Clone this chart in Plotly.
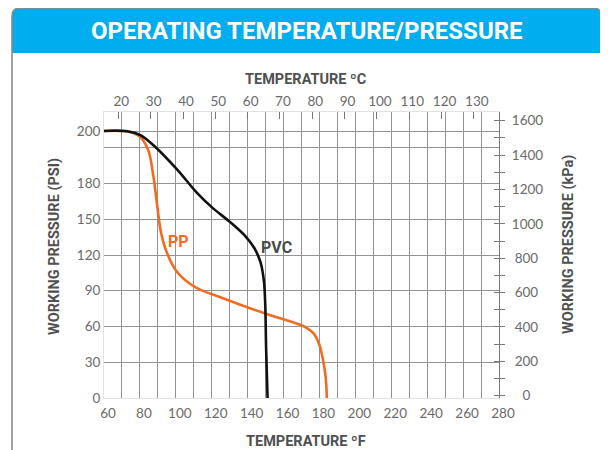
import plotly.graph_objects as go

# ---------------- data ----------------
temp_f_ticks = list(range(60, 281, 20))          # bottom axis labels (°F)
temp_f_grid = list(range(70, 271, 10))           # vertical grid lines (°F)
temp_c_ticks = list(range(20, 131, 10))          # top axis labels (°C)
psi_tick_labels = ["0", "30", "60", "90", "120", "150", "180", "200"]
psi_tick_pos = [0, 200, 400, 600, 800, 1000, 1200, 1490]   # positions on the chart's grid scale
grid_rows = [200, 400, 600, 800, 1000, 1200, 1400, 1490]
kpa_ticks = list(range(0, 1601, 200))

pvc_temp_f = [60, 73.6, 80.3, 88.6, 100.9, 111.4, 120.3, 130.3, 138.7, 143.7, 147.1, 149.0,
              149.8, 150.3, 151.1]
pvc_pressure = [1494, 1491, 1471, 1404, 1276, 1152, 1065, 984, 906, 839, 761, 660,
                526, 274, 0]

pp_temp_f = [60, 72.4, 80.2, 84.6, 87.4, 89.6, 91.8, 95.1, 100.7, 110.7, 127.4, 149.7,
             168.1, 172.6, 176.5, 179.8, 182.0, 183.5, 184.1]
pp_pressure = [1494, 1494, 1460, 1387, 1248, 1080, 923, 811, 705, 621, 554, 473,
               414, 394, 364, 302, 213, 112, 0]

# ---------------- layout helpers ----------------
# page body has an 8px margin, so the figure starts at (8, 8) of the window
OFF = 8
WIN_W, WIN_H = 608, 450
W, H = WIN_W - OFF, WIN_H - OFF
L, R, T, B = 104, 499, 112, 398     # plot area in window pixels


def px(x):
    return (x - L) / (R - L)


def py(y):
    return (B - y) / (B - T)


ORANGE = "#F26B22"
GRID = "#939393"
TICK_FONT = dict(family="Lato", size=13.5, color="#6a6a6a")
TITLE_FONT = dict(family="Roboto", size=14.5, color="#505050")

fig = go.Figure()

fig.add_trace(go.Scatter(x=pp_temp_f, y=pp_pressure, mode="lines",
                         line=dict(color=ORANGE, width=2.6, shape="spline", smoothing=1.0),
                         hoverinfo="skip", showlegend=False))
fig.add_trace(go.Scatter(x=pvc_temp_f, y=pvc_pressure, mode="lines",
                         line=dict(color="#111111", width=2.6, shape="spline", smoothing=1.0),
                         hoverinfo="skip", showlegend=False))
# helper traces so the extra axes are drawn
fig.add_trace(go.Scatter(x=[None], y=[None], xaxis="x2", yaxis="y", mode="lines",
                         hoverinfo="skip", showlegend=False))
fig.add_trace(go.Scatter(x=[None], y=[None], xaxis="x", yaxis="y2", mode="lines",
                         hoverinfo="skip", showlegend=False))
fig.add_trace(go.Scatter(x=[None], y=[None], xaxis="x", yaxis="y3", mode="lines",
                         hoverinfo="skip", showlegend=False))

kpa_range = [-13.4, 1650.6]
pad = {4: "", 3: "\u2008", 1: "\u2007\u2008"}
kpa_text = [pad[len(str(v))] + str(v) for v in kpa_ticks]

fig.update_layout(
    width=W, height=H,
    margin=dict(l=L - OFF, r=WIN_W - R, t=T - OFF, b=WIN_H - B, pad=0),
    paper_bgcolor="white", plot_bgcolor="white",
    showlegend=False,
    xaxis=dict(range=[60, 280], tickmode="array", tickvals=temp_f_ticks,
               showgrid=False, zeroline=False, ticks="",
               showline=True, linecolor="#e2e2e2", linewidth=1, mirror=True,
               tickfont=TICK_FONT, ticklabelshift=4, ticklabelstandoff=3,
               minor=dict(tickmode="array", tickvals=temp_f_grid, showgrid=True,
                          gridcolor=GRID, gridwidth=1.3, ticks="")),
    xaxis2=dict(overlaying="x", side="top", anchor="y",
                range=[(60 - 32) / 1.8, (280 - 32) / 1.8],
                tickmode="array", tickvals=temp_c_ticks,
                showgrid=False, zeroline=False, showline=False,
                ticks="inside", ticklen=7, tickwidth=1.2, tickcolor="#777777",
                tickfont=TICK_FONT, ticklabelshift=3, ticklabelstandoff=2),
    yaxis=dict(range=[0, 1600], tickmode="array", tickvals=psi_tick_pos, ticktext=psi_tick_labels,
               showgrid=False, zeroline=False, ticks="",
               showline=True, linecolor="#e2e2e2", linewidth=1,
               tickfont=TICK_FONT,
               minor=dict(tickmode="array", tickvals=grid_rows, showgrid=True,
                          gridcolor=GRID, gridwidth=1.3, ticks="")),
    yaxis2=dict(overlaying="y", side="right", anchor="x", range=kpa_range,
                tickmode="array", tickvals=kpa_ticks, ticktext=kpa_text,
                showgrid=False, zeroline=False,
                showline=True, linecolor="#7a7a7a", linewidth=1.2,
                ticks="outside", ticklen=5, tickwidth=1.2, tickcolor="#7a7a7a",
                tickfont=TICK_FONT, ticklabelstandoff=4,
                minor=dict(dtick=100, tick0=0, ticks="outside", ticklen=5,
                           tickwidth=1.2, tickcolor="#7a7a7a", showgrid=False)),
    yaxis3=dict(overlaying="y", side="right", anchor="x", range=kpa_range,
                tickmode="array", tickvals=kpa_ticks, showticklabels=False,
                showgrid=False, zeroline=False, showline=False,
                ticks="inside", ticklen=5, tickwidth=1.2, tickcolor="#7a7a7a",
                minor=dict(dtick=100, tick0=0, ticks="inside", ticklen=5,
                           tickwidth=1.2, tickcolor="#7a7a7a", showgrid=False)),
)

header_path = (f"M {px(12)},{py(53)} L {px(12)},{py(16)} Q {px(12)},{py(8)} {px(20)},{py(8)} "
               f"L {px(593)},{py(8)} Q {px(601)},{py(8)} {px(601)},{py(16)} L {px(601)},{py(53)} Z")
outline_path = (f"M {px(12)},{py(452)} L {px(12)},{py(16)} Q {px(12)},{py(8)} {px(20)},{py(8)} "
                f"L {px(593)},{py(8)} Q {px(601)},{py(8)} {px(601)},{py(16)} L {px(601)},{py(452)}")
fig.add_shape(type="path", path=header_path, xref="paper", yref="paper",
              fillcolor="#00ADEE", line=dict(width=0), layer="above")
fig.add_shape(type="path", path=outline_path, xref="paper", yref="paper",
              fillcolor="rgba(0,0,0,0)", line=dict(color="#8a8a8a", width=1.6), layer="above")

annos = [
    dict(text="<b>OPERATING TEMPERATURE/PRESSURE</b>", x=px(307), y=py(31),
         font=dict(family="Roboto", size=24, color="white")),
    dict(text="<b>TEMPERATURE ºC</b>", x=px(306), y=py(79), font=TITLE_FONT),
    dict(text="<b>TEMPERATURE ºF</b>", x=px(306), y=py(441), font=TITLE_FONT),
    dict(text="<b>WORKING PRESSURE (PSI)</b>", x=px(55), y=py(247), textangle=-90, font=TITLE_FONT),
    dict(text="<b>WORKING PRESSURE (kPa)</b>", x=px(568), y=py(245), textangle=-90, font=TITLE_FONT),
]
for a in annos:
    fig.add_annotation(xref="paper", yref="paper", showarrow=False,
                       xanchor="center", yanchor="middle", **a)

fig.add_annotation(x=101.4, y=875, xref="x", yref="y", text="<b>PP</b>", showarrow=False,
                   font=dict(family="Roboto", size=16, color=ORANGE))
fig.add_annotation(x=155.9, y=842, xref="x", yref="y", text="<b>PVC</b>", showarrow=False,
                   font=dict(family="Roboto", size=16, color="#4a4a4a"))

fig.write_html("out.html")
